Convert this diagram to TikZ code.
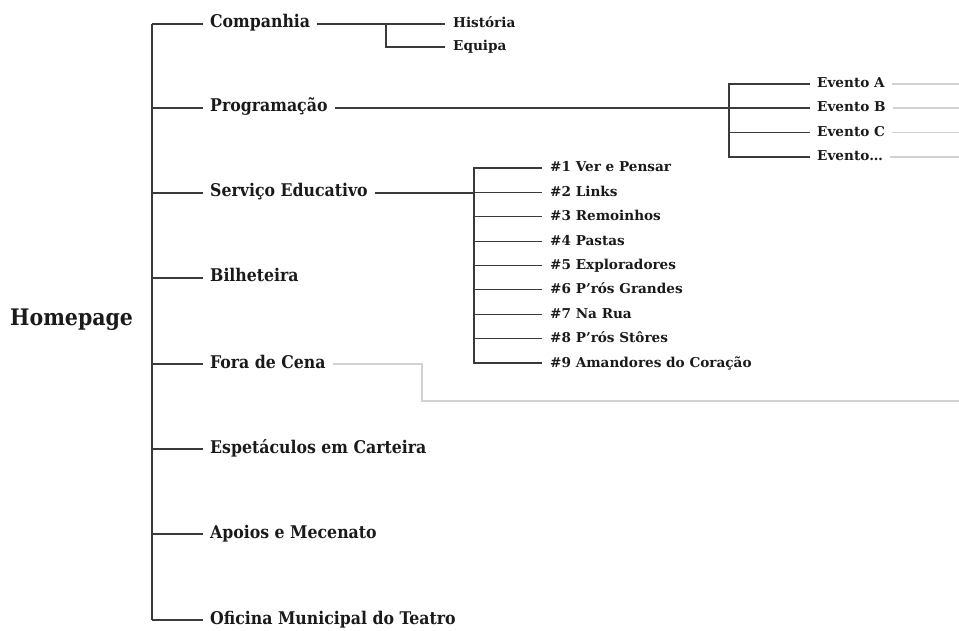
\documentclass[tikz,border=0pt]{standalone}
\usepackage{fontspec}
\setmainfont{DejaVu Serif}
\newfontfamily\estreita{DejaVu Serif Condensed}
\usepackage{tikz}

\definecolor{linha}{HTML}{3A3A3A}
\definecolor{cinza}{HTML}{D2D2D2}
\definecolor{texto}{HTML}{1A1A1A}

\begin{document}
\begin{tikzpicture}[x=1pt, y=-1pt,
    ramo/.style={draw=linha, line width=1.2pt},
    fio/.style={draw=cinza, line width=1.2pt},
    item/.style={anchor=west, inner xsep=7pt, inner ysep=0pt, text height=0.8em,
        text depth=0pt, text=texto, font=\estreita\bfseries\fontsize{17.5}{20}\selectfont},
    sub/.style={item, inner xsep=8pt, font=\bfseries\fontsize{13.6}{16}\selectfont}]
    \useasboundingbox (0,0) rectangle (959,631);

    % Raiz
    \node[item, inner xsep=0pt, font=\estreita\bfseries\fontsize{22.8}{28}\selectfont] (home) at (10,322) {Homepage};
    \coordinate (topo) at (152,24);
    \coordinate (base) at (152,620);
    \coordinate (borda) at (959,0);
    \draw[ramo] (topo) -- (base);

    % Paginas principais
    \node[item] (comp) at (203,24) {Companhia};
    \node[item] (prog) at (203,108) {Programação};
    \node[item] (serv) at (203,193) {Serviço Educativo};
    \node[item] (bilh) at (203,278) {Bilheteira};
    \node[item] (fora) at (203,364) {Fora de Cena};
    \node[item] (espe) at (203,449) {Espetáculos em Carteira};
    \node[item] (apoi) at (203,534) {Apoios e Mecenato};
    \node[item] (ofic) at (203,620) {Oficina Municipal do Teatro};
    \foreach \p in {comp,prog,serv,bilh,fora,espe,apoi,ofic}
        \draw[ramo] (topo |- \p.west) -- (\p.west);

    % Companhia
    \node[sub] (hist) at (445,24) {História};
    \node[sub] (equi) at (445,47) {Equipa};
    \coordinate (cj) at (386,24);
    \draw[ramo] (comp.east) -- (hist.west);
    \draw[ramo] (cj) |- (equi.west);

    % Programacao -> eventos
    \node[sub, inner xsep=7pt] (evA) at (810,84) {Evento A};
    \node[sub, inner xsep=7pt] (evB) at (810,108) {Evento B};
    \node[sub, inner xsep=7pt] (evC) at (810,132.5) {Evento C};
    \node[sub, inner xsep=7pt] (evD) at (810,157) {Evento…};
    \coordinate (pj) at (729,84);
    \draw[ramo] (prog.east) -- (evB.west);
    \draw[ramo] (evA.west) -- (pj) |- (evD.west);
    \draw[ramo] (pj |- evC.west) -- (evC.west);
    \foreach \e in {evA,evB,evC,evD}
        \draw[fio] (\e.east) -- (\e.east -| borda);

    % Servico Educativo
    \foreach \n/\t in {1/{\#1 Ver e Pensar}, 2/{\#2 Links}, 3/{\#3 Remoinhos},
        4/{\#4 Pastas}, 5/{\#5 Exploradores}, 6/{\#6 P’rós Grandes},
        7/{\#7 Na Rua}, 8/{\#8 P’rós Stôres}, 9/{\#9 Amandores do Coração}}
        \node[sub] (s\n) at (542,{168+24.375*(\n-1)}) {\t};
    \coordinate (sj) at (474,168);
    \draw[ramo] (serv.east) -- (sj |- serv.east);
    \draw[ramo] (s1.west) -- (sj) |- (s9.west);
    \foreach \n in {2,...,8}
        \draw[ramo] (sj |- s\n.west) -- (s\n.west);

    % Fora de Cena (cinzento)
    \coordinate (fj) at (422,364);
    \draw[fio] (fora.east) -- (fj) -- (fj |- 0,401) -- (borda |- 0,401);
\end{tikzpicture}
\end{document}
